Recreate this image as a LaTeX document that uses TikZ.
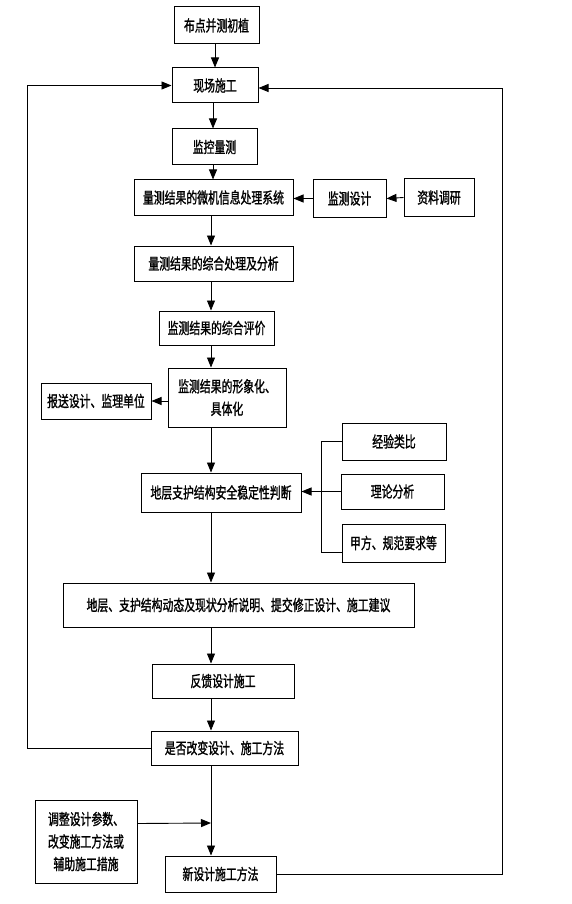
\documentclass[tikz,border=0pt]{standalone}
\usepackage{fontspec}
\newfontfamily\cjk[FakeStretch=0.70,FakeBold=1.2]{Noto Sans CJK SC}
\usetikzlibrary{arrows.meta}
\tikzset{
  box/.style={draw, line width=1pt, inner sep=0pt, align=center,
    font=\cjk\fontsize{15.5}{22.5}\selectfont},
  conn/.style={line width=0.9pt},
  arr/.style={conn, -{Triangle[length=10pt,width=8pt]}}
}
\begin{document}
\begin{tikzpicture}[x=1pt,y=-1pt]
\fill[white] (0,0) rectangle (572,904);
\useasboundingbox (0,0) rectangle (572,904);
% nodes
\node[box, minimum width=85pt, minimum height=37pt] (b1) at (216.5,25.5) {布点并测初植};
\node[box, minimum width=86pt, minimum height=35pt] (b2) at (215,85.5) {现场施工};
\node[box, minimum width=85pt, minimum height=36pt] (b3) at (214.5,147) {监控量测};
\node[box, minimum width=159pt, minimum height=35pt] (b4) at (213.5,197.5) {量测结果的微机信息处理系统};
\node[box, minimum width=73pt, minimum height=37pt] (b5) at (349.5,198.5) {监测设计};
\node[box, minimum width=70pt, minimum height=37pt] (b6) at (439,197.5) {资料调研};
\node[box, minimum width=159pt, minimum height=35pt] (b7) at (213.5,263.5) {量测结果的综合处理及分析};
\node[box, minimum width=115pt, minimum height=34pt] (b8) at (216.5,328) {监测结果的综合评价};
\node[box, minimum width=118pt, minimum height=59pt] (b9) at (227,397.5) {监测结果的形象化、\\具体化};
\node[box, minimum width=110pt, minimum height=36pt] (b10) at (96,401) {报送设计、监理单位};
\node[box, minimum width=104pt, minimum height=37pt] (b11) at (394,441.5) {经验类比};
\node[box, minimum width=103pt, minimum height=35pt] (b12) at (392.5,491.5) {理论分析};
\node[box, minimum width=103pt, minimum height=38pt] (b13) at (393.5,543) {甲方、规范要求等};
\node[box, minimum width=160pt, minimum height=39pt] (b14) at (221,492.5) {地层支护结构安全稳定性判断};
\node[box, minimum width=351pt, minimum height=44pt] (b15) at (238.5,605) {地层、支护结构动态及现状分析说明、提交修正设计、施工建议};
\node[box, minimum width=142pt, minimum height=34pt] (b16) at (223,681) {反馈设计施工};
\node[box, minimum width=147pt, minimum height=34pt] (b17) at (224.5,748) {是否改变设计、施工方法};
\node[box, minimum width=102pt, minimum height=83pt] (b18) at (86,841.5) {调整设计参数、\\改变施工方法或\\辅助施工措施};
\node[box, minimum width=111pt, minimum height=36pt] (b19) at (220.5,874) {新设计施工方法};
% helper coordinates
\coordinate (sA) at (215,0);
\coordinate (sB) at (213,0);
\coordinate (sC) at (211,0);
\coordinate (L) at (27,0);
\coordinate (R) at (502,0);
\coordinate (B) at (321,0);
\coordinate (j) at (211,823);
% main spine
\draw[arr] (b1.south -| sA) -- (b2.north -| sA);
\draw[arr] (b2.south -| sB) -- (b3.north -| sB);
\draw[arr] (b3.south -| sB) -- (b4.north -| sB);
\draw[arr] (b4.south -| sC) -- (b7.north -| sC);
\draw[arr] (b7.south -| sC) -- (b8.north -| sC);
\draw[arr] (b8.south -| sC) -- (b9.north -| sC);
\draw[arr] (b9.south -| sC) -- (b14.north -| sC);
\draw[arr] (b14.south -| sC) -- (b15.north -| sC);
\draw[arr] (b15.south -| sC) -- (b16.north -| sC);
\draw[arr] (b16.south -| sC) -- (b17.north -| sC);
\draw[arr] (b17.south -| sC) -- (b19.north -| sC);
% side arrows
\draw[arr] (b6.west) -- (b5.east);
\draw[arr] (b5.west) -- (b5.west -| b4.east);
\draw[arr] (b9.west |- b10.east) -- (b10.east);
\draw[arr] (b12.west) -- (b12.west -| b14.east);
\draw[conn] (b11.west) -- (b11.west -| B) -- ([yshift=-9pt]b13.west -| B) -- ([yshift=-9pt]b13.west);
\draw[arr] ([yshift=18pt]b18.east) -- (j);
% loops
\draw[arr] (b17.west) -- (b17.west -| L) |- (b2.west);
\draw[arr] (b19.east) -- (b19.east -| R) |- ([yshift=-2.5pt]b2.east);
\end{tikzpicture}
\end{document}
